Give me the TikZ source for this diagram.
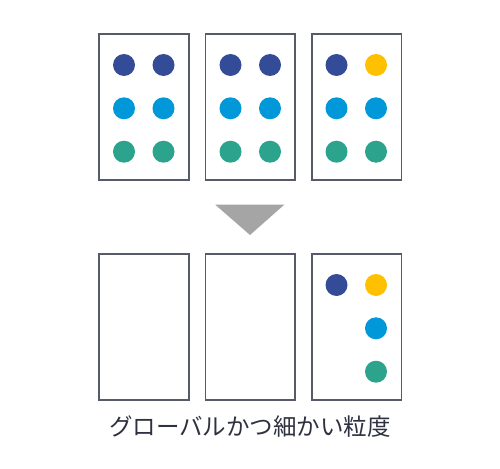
\documentclass[tikz,border=0pt]{standalone}
\usepackage{fontspec}
\newfontfamily\cjk{Noto Sans CJK JP}
\definecolor{dblue}{HTML}{344C98}
\definecolor{lblue}{HTML}{0098D8}
\definecolor{teal}{HTML}{2BA38D}
\definecolor{yel}{HTML}{FFC000}
\definecolor{frame}{HTML}{575A68}
\definecolor{tri}{HTML}{A5A5A5}
\definecolor{txt}{HTML}{2E3140}
\tikzset{
  panel/.style={draw=frame, line width=1.2pt, fill=white},
  dot/.style={circle, inner sep=0pt, minimum size=22pt},
}
\begin{document}
\begin{tikzpicture}[x=1pt,y=-1pt]
\useasboundingbox (0,0) rectangle (500,468);
% top panels
\draw[panel] (99,34) rectangle (189,180);
\draw[panel] (205.5,34) rectangle (295,180);
\draw[panel] (312,34) rectangle (401.5,180);
% bottom panels
\draw[panel] (99,254) rectangle (189,400);
\draw[panel] (205.5,254) rectangle (295,400);
\draw[panel] (312,254) rectangle (401.5,400);
% top dots
\foreach \cx/\nm in {124/a,163.5/b,230.5/c,270/d,336.5/e,376/f}{
  \node[dot, fill=lblue] (m\nm) at (\cx,108.3) {};
  \node[dot, fill=teal] (g\nm) at (\cx,151.7) {};
}
\foreach \cx/\nm in {124/a,163.5/b,230.5/c,270/d,336.5/e}{
  \node[dot, fill=dblue] (t\nm) at (\cx,65) {};
}
\node[dot, fill=yel] (tf) at (376,65) {};
% bottom dots
\node[dot, fill=dblue] (bt1) at (336.5,285) {};
\node[dot, fill=yel] (bt2) at (376,285) {};
\node[dot, fill=lblue] (bm) at (376,328.3) {};
\node[dot, fill=teal] (bg) at (376,371.7) {};
% arrow triangle
\fill[tri] (215,204.5) -- (284.5,204.5) -- (250,235) -- cycle;
% caption
\node[text=txt, font=\cjk\fontsize{23.5}{26}\selectfont, inner sep=0pt] (cap) at (250,426.5) {グローバルかつ細かい粒度};
\end{tikzpicture}
\end{document}
